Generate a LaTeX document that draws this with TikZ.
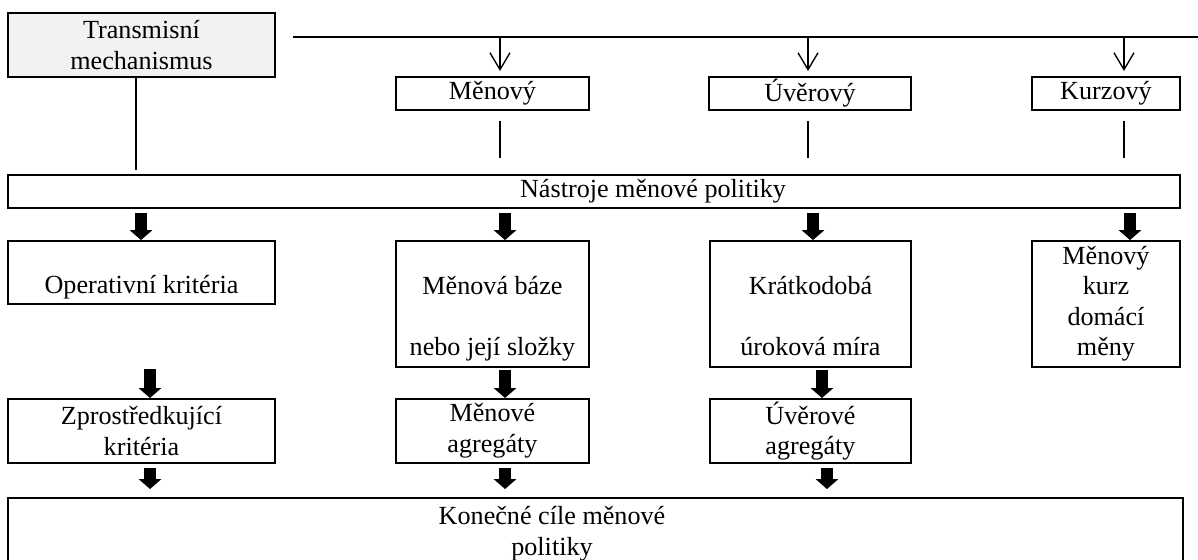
\documentclass[tikz,border=0pt]{standalone}
\usepackage{fontspec}
\setmainfont{Liberation Serif}
\usetikzlibrary{arrows.meta}

\tikzset{
	box/.style={draw, line width=0.9pt, align=center, inner sep=0pt},
	thin/.style={line width=0.65pt},
	fat/.style={line width=5.5pt, -{Triangle[length=4.7pt,width=10.5pt]}},
	barb/.style={thin, -{Straight Barb[length=8pt,width=9.5pt]}, shorten >=2.4pt}
}

\begin{document}
\begin{tikzpicture}[font=\fontsize{12.4pt}{14.5pt}\selectfont]
			\useasboundingbox (0,0) rectangle (19.967,-9.317);
			
			%%top
			\node[box, fill=gray!10, minimum width=4.45cm, minimum height=1.067cm] (trans) at (2.358,-0.75) {Transmisní\\mechanismus};
			\node[box, minimum width=3.217cm, minimum height=0.55cm] (menovy) at (8.208,-1.558) {Měnový};
			\node[box, minimum width=3.367cm, minimum height=0.55cm] (uverovy) at (13.5,-1.558) {Úvěrový};
			\node[box, minimum width=2.467cm, minimum height=0.55cm] (kurzovy) at (18.433,-1.558) {Kurzový};
			
			\coordinate (lineL) at (4.883,-0.617);
			\coordinate (lineR) at (19.967,-0.617);
			\coordinate (tl) at (2.267,-2.833);
			\draw[thin] (lineL) -- (lineR);
			\draw[thin] (trans.south -| tl) -- (tl);
			
			\foreach \x / \n in {8.333/menovy, 13.467/uverovy, 18.733/kurzovy}
			{
				\draw[barb] (lineL -| \x,0) -- (\n.north -| \x,0);
				\draw[thin] (\n.south -| \x,0) ++(0,-0.167) -- ++(0,-0.617);
			}
			
			%%tools
			\node[box, minimum width=19.533cm, minimum height=0.55cm] (nastroje) at (9.9,-3.192) {\hspace*{1.967cm}Nástroje měnové politiky};
			
			%%second
			\node[box, minimum width=4.45cm, minimum height=1.05cm] (operativni) at (2.358,-4.542) {\strut\\Operativní kritéria\strut};
			\node[box, minimum width=3.217cm, minimum height=2.1cm] (menbaze) at (8.208,-5.067) {\strut\\Měnová báze\\\strut\\nebo její složky\strut};
			\node[box, minimum width=3.35cm, minimum height=2.1cm] (kratko) at (13.508,-5.067) {\strut\\Krátkodobá\\\strut\\úroková míra\strut};
			\node[box, minimum width=2.467cm, minimum height=2.1cm] (menkurz) at (18.433,-5.067) {\strut Měnový\\kurz\\domácí\\měny\strut};
			
			\foreach \x / \n in {2.35/operativni, 8.417/menbaze, 13.55/kratko, 18.833/menkurz}
				\draw[fat, shorten <=1.9pt] (nastroje.south -| \x,0) -- (\n.north -| \x,0);
			
			%%third
			\node[box, minimum width=4.45cm, minimum height=1.067cm] (zprost) at (2.358,-7.183) {Zprostředkující\\kritéria};
			\node[box, minimum width=3.217cm, minimum height=1.067cm] (menagr) at (8.208,-7.183) {Měnové\\agregáty};
			\node[box, minimum width=3.35cm, minimum height=1.067cm] (uveragr) at (13.508,-7.183) {Úvěrové\\agregáty};
			
			\coordinate (op) at (2.5,-6.15);
			\draw[fat] (op) -- (zprost.north -| op);
			\foreach \x / \a / \b in {8.417/menbaze/menagr, 13.7/kratko/uveragr}
				\draw[fat, shorten <=1pt] (\a.south -| \x,0) -- (\b.north -| \x,0);
			
			%%goals
			\node[box, minimum width=19.583cm, minimum height=1.19cm] (konecne) at (9.925,-8.895) {Konečné cíle měnové\hspace*{1.45cm}\\politiky\hspace*{1.45cm}};
			
			\foreach \x / \a in {2.5/zprost, 8.417/menagr, 13.783/uveragr}
				\draw[fat, shorten <=1.9pt, shorten >=3.8pt] (\a.south -| \x,0) -- (konecne.north -| \x,0);
\end{tikzpicture}
\end{document}
